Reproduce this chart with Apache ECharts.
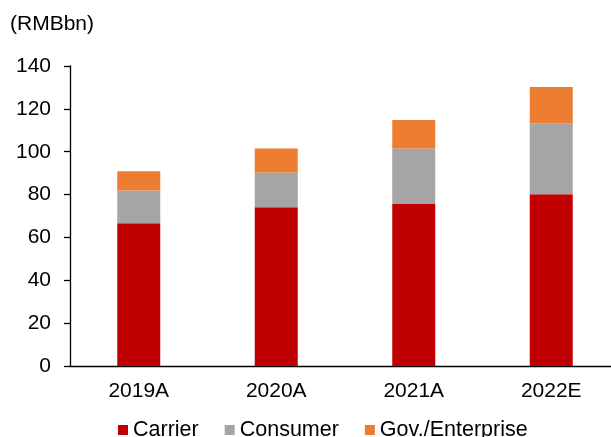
<!DOCTYPE html>
<html>
<head>
<meta charset="utf-8">
<script src="https://cdn.jsdelivr.net/npm/echarts@6/dist/echarts.min.js"></script>
<style>
html,body{margin:0;padding:0;background:#fff;}
#chart{width:611px;height:437px;}
</style>
</head>
<body>
<div id="chart"></div>
<script>
const categories = ['2019A', '2020A', '2021A', '2022E'];
const carrier = [66.6, 74.1, 75.6, 80.2];
const consumer = [15.3, 16.2, 25.9, 33.0];
const govEnterprise = [9.0, 11.2, 13.3, 17.0];
const yTicks = [0, 20, 40, 60, 80, 100, 120, 140];
const unitLabel = '(RMBbn)';

const FONT = 'Liberation Sans, Arial, sans-serif';
const FS = 21;
const chart = echarts.init(document.getElementById('chart'), null, {renderer: 'canvas'});
chart.setOption({
  animation: false,
  backgroundColor: '#fff',
  textStyle: {fontFamily: FONT},
  title: {
    text: unitLabel,
    left: 10, top: 14, padding: 0,
    textStyle: {fontFamily: FONT, fontSize: FS, fontWeight: 'normal', color: '#000'}
  },
  legend: {
    left: 118, top: 419, padding: 0,
    itemWidth: 10, itemHeight: 10, itemGap: 26,
    icon: 'rect',
    textStyle: {fontFamily: FONT, fontSize: 21.5, color: '#000'},
    data: ['Carrier', 'Consumer', 'Gov./Enterprise']
  },
  grid: {left: 70, top: 66, width: 550, height: 300, containLabel: false, outerBoundsMode: 'none'},
  xAxis: {
    type: 'category',
    data: categories,
    axisLine: {lineStyle: {color: '#000', width: 1.3}},
    axisTick: {show: false},
    axisLabel: {fontFamily: FONT, fontSize: FS, color: '#000', margin: 15}
  },
  yAxis: {
    type: 'value',
    min: yTicks[0], max: yTicks[yTicks.length - 1], interval: 20,
    axisLine: {show: true, lineStyle: {color: '#000', width: 1.3}},
    axisTick: {show: true, length: 6, lineStyle: {color: '#000', width: 1.3}},
    splitLine: {show: false},
    axisLabel: {fontFamily: FONT, fontSize: FS, color: '#000', margin: 19}
  },
  series: [
    {name: 'Carrier', type: 'bar', stack: 'total', data: carrier, barWidth: 43, itemStyle: {color: '#C00000'}},
    {name: 'Consumer', type: 'bar', stack: 'total', data: consumer, barWidth: 43, itemStyle: {color: '#A5A5A5'}},
    {name: 'Gov./Enterprise', type: 'bar', stack: 'total', data: govEnterprise, barWidth: 43, itemStyle: {color: '#ED7D31'}}
  ]
});
</script>
</body>
</html>
